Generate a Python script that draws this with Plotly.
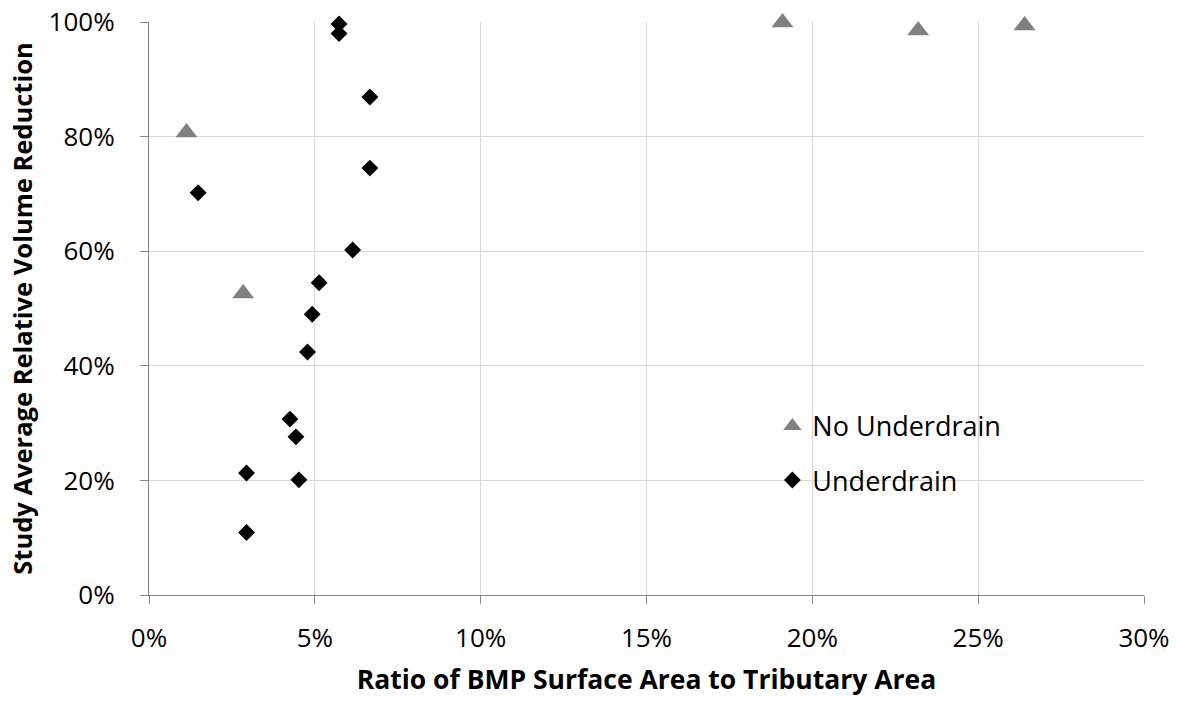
import plotly.graph_objects as go

# ---- data (fractions) ----
no_underdrain_x = [0.0113, 0.0284, 0.191, 0.2319, 0.264]
no_underdrain_y = [0.807, 0.526, 0.999, 0.985, 0.994]

underdrain_x = [0.0573, 0.0573, 0.0666, 0.0666, 0.0148, 0.0614, 0.0513,
                0.0492, 0.0478, 0.0425, 0.0443, 0.0294, 0.0452, 0.0294]
underdrain_y = [0.9965, 0.980, 0.869, 0.745, 0.702, 0.602, 0.545,
                0.490, 0.424, 0.307, 0.276, 0.213, 0.201, 0.109]

series_names = ["No Underdrain", "Underdrain"]
x_title = "Ratio of BMP Surface Area to Tributary Area"
y_title = "Study Average Relative Volume Reduction"
x_ticks = [0, 0.05, 0.10, 0.15, 0.20, 0.25, 0.30]
y_ticks = [0, 0.2, 0.4, 0.6, 0.8, 1.0]

FONT = "Open Sans"

fig = go.Figure()
fig.add_trace(go.Scatter(
    x=no_underdrain_x, y=no_underdrain_y, mode="markers", name=series_names[0],
    legendgroup="a",
    marker=dict(symbol="triangle-up", size=19, color="#808080"),
    cliponaxis=False,
))
fig.add_trace(go.Scatter(
    x=underdrain_x, y=underdrain_y, mode="markers", name=series_names[1],
    legendgroup="b",
    marker=dict(symbol="diamond", size=13, color="#000000"),
    cliponaxis=False,
))

axis_common = dict(
    showline=True, linecolor="#868686", linewidth=1.3,
    showgrid=True, gridcolor="#d9d9d9", gridwidth=1,
    zeroline=False,
    ticks="outside", ticklen=8, tickcolor="#868686", tickwidth=1.3,
    tickformat=".0%",
    tickfont=dict(family=FONT, size=26, color="#000000"),
)

fig.update_xaxes(
    range=[0, 0.30], tickvals=x_ticks, ticklabelstandoff=12,
    title=dict(text=x_title, font=dict(family=FONT, size=26.5, color="#000000",
                                       weight="bold"), standoff=16),
    **axis_common,
)
fig.update_yaxes(
    range=[0, 1.0], tickvals=y_ticks, ticklabelstandoff=20,
    title=dict(text=y_title, font=dict(family=FONT, size=25.5, color="#000000",
                                       weight="bold"), standoff=8),
    **axis_common,
)

fig.update_layout(
    width=1178, height=701,
    margin=dict(l=148.5, r=34.3, t=22.3, b=106, autoexpand=False),
    paper_bgcolor="white", plot_bgcolor="white",
    showlegend=True,
    legend=dict(
        x=0.6265, y=0.337, xanchor="left", yanchor="top",
        traceorder="grouped", tracegroupgap=16,
        font=dict(family=FONT, size=27, color="#000000"),
        bgcolor="rgba(0,0,0,0)", itemsizing="trace",
    ),
    font=dict(family=FONT),
)

fig.write_html("out.html")
